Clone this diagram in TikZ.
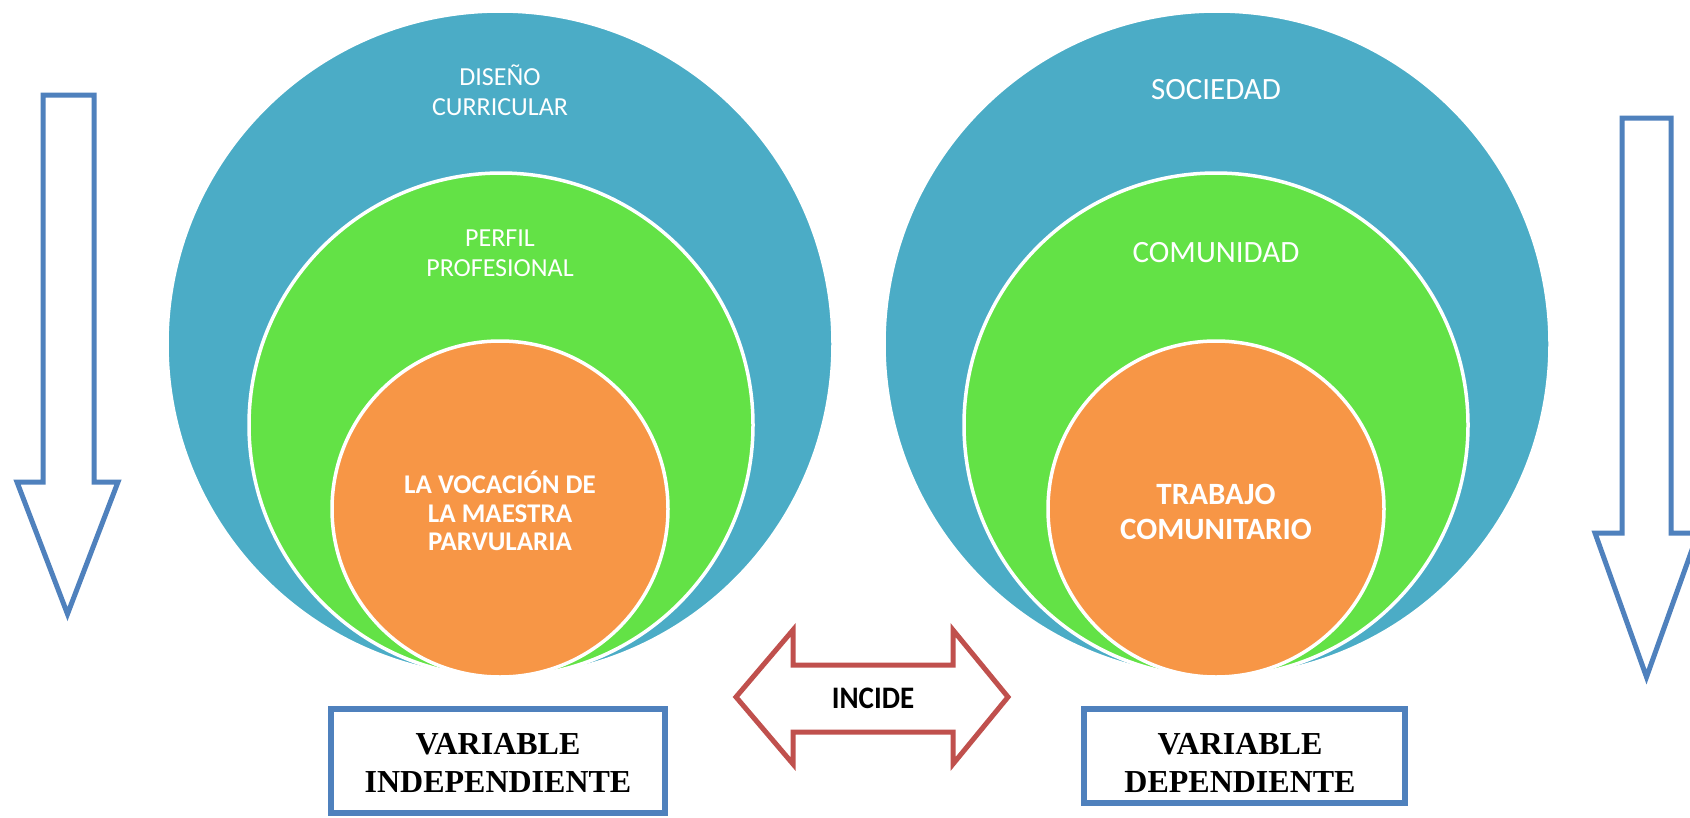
\documentclass[tikz,border=0pt]{standalone}
\usepackage{fontspec}
\setmainfont{Carlito}
\newfontfamily\timesf{Liberation Serif}
\definecolor{cblue}{HTML}{4BACC6}
\definecolor{cgreen}{HTML}{63E246}
\definecolor{corange}{HTML}{F79646}
\definecolor{oblue}{HTML}{4F81BD}
\definecolor{ored}{HTML}{C0504D}
\tikzset{
  ring/.style={circle, draw=white, line width=3.5pt, inner sep=0pt, outer sep=0pt},
  lbl/.style={text=white, align=center, inner sep=0pt},
  bluearrow/.style={draw=oblue, line width=5pt, fill=white, line join=miter},
  redarrow/.style={draw=ored, line width=5pt, fill=white, line join=miter},
  varbox/.style={draw=oblue, line width=5.5pt, fill=white, inner sep=0pt},
  vartext/.style={inner sep=0pt, align=center,
     font=\timesf\bfseries\fontsize{32}{38}\selectfont}
}
\begin{document}
\begin{tikzpicture}[x=1pt,y=-1pt]
\useasboundingbox[fill=white] (0,0) rectangle (1690,817);
% left target
\node[ring, fill=cblue, minimum size=666pt] (bL) at (500,344) {};
\node[ring, fill=cgreen, minimum size=504pt] (gL) at (501,425) {};
\node[ring, fill=corange, minimum size=336pt] (oL) at (500,509) {};
% right target
\node[ring, fill=cblue, minimum size=666pt] (bR) at (1217,344) {};
\node[ring, fill=cgreen, minimum size=504pt] (gR) at (1216,425) {};
\node[ring, fill=corange, minimum size=336pt] (oR) at (1216,509) {};
% labels
\node[lbl, font=\fontsize{26}{30}\selectfont] (t1) at (500,90) {DISEÑO\\CURRICULAR};
\node[lbl, font=\fontsize{26}{30}\selectfont] (t2) at (500,253) {PERFIL\\PROFESIONAL};
\node[lbl, font=\bfseries\fontsize{27}{28.5}\selectfont] (t3) at (500,511) {LA VOCACIÓN DE\\LA MAESTRA\\PARVULARIA};
\node[lbl, font=\fontsize{31}{34}\selectfont] (t4) at (1216,90) {SOCIEDAD};
\node[lbl, font=\fontsize{31}{34}\selectfont] (t5) at (1216,253) {COMUNIDAD};
\node[lbl, font=\bfseries\fontsize{31}{35}\selectfont] (t6) at (1216,512) {TRABAJO\\COMUNITARIO};
% down arrows
\draw[bluearrow] (43,95) -- (94,95) -- (94,482) -- (118,482) -- (67.5,614) -- (17,482) -- (43,482) -- cycle;
\draw[bluearrow] (1622,118) -- (1671,118) -- (1671,533) -- (1698,533) -- (1646.5,677) -- (1595,533) -- (1622,533) -- cycle;
% double arrow
\draw[redarrow] (736,697) -- (793,630) -- (793,665) -- (953,665) -- (953,630) -- (1008,697) -- (953,764) -- (953,732) -- (793,732) -- (793,764) -- cycle;
\node[font=\bfseries\fontsize{29}{30}\selectfont, inner sep=0pt, yscale=1.08] (inc) at (873,698) {INCIDE};
% boxes
\node[varbox, minimum width=334pt, minimum height=104pt] (vi) at (498,761) {};
\node[vartext] (vitext) at (498,763) {VARIABLE\\INDEPENDIENTE};
\node[varbox, minimum width=321pt, minimum height=94pt] (vd) at (1244.5,756) {};
\node[vartext] (vdtext) at (1240,763) {VARIABLE\\DEPENDIENTE};
\end{tikzpicture}
\end{document}
